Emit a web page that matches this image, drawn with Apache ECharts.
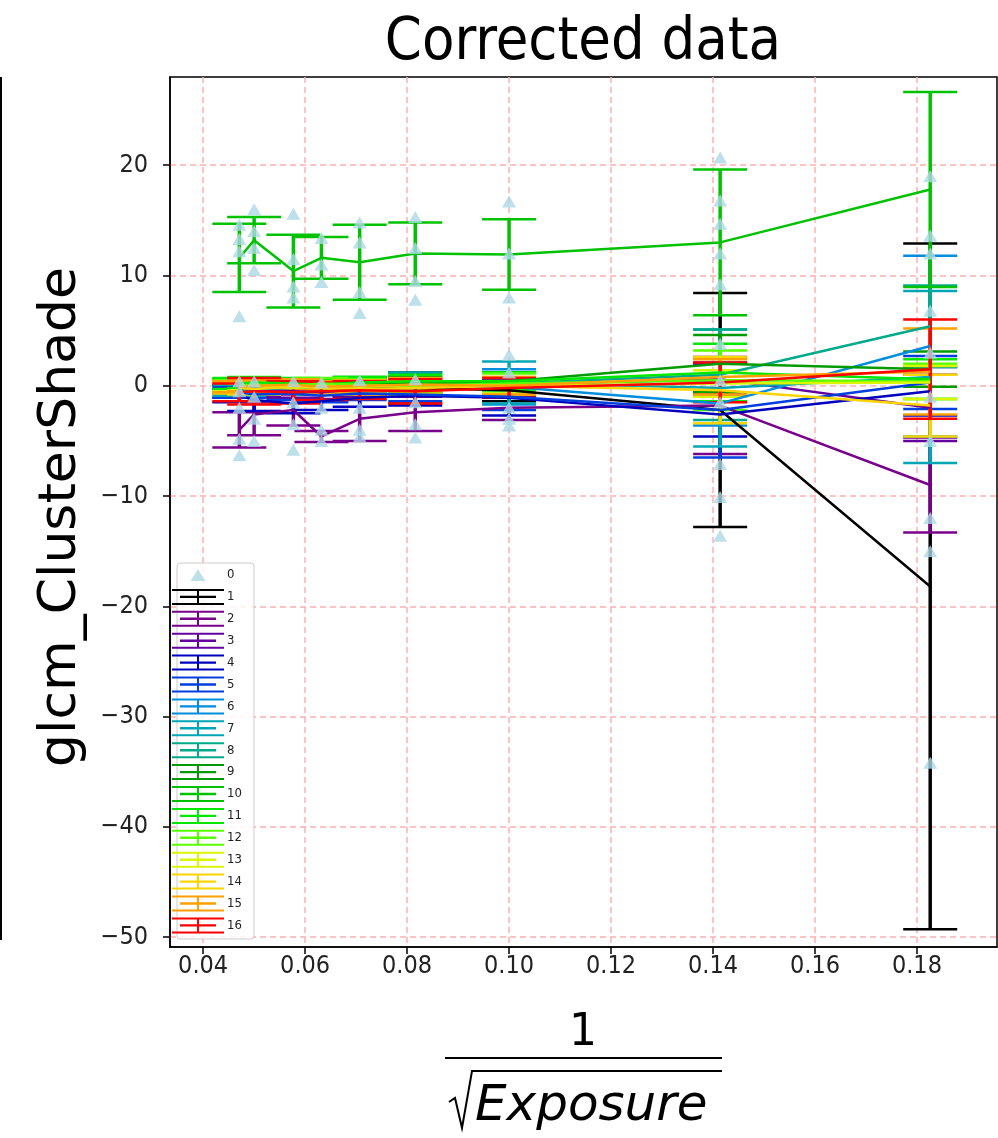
<!DOCTYPE html>
<html>
<head>
<meta charset="utf-8">
<script src="https://cdn.jsdelivr.net/npm/echarts@6/dist/echarts.min.js"></script>
<style>
html,body{margin:0;padding:0;background:#fff;}
#c{width:998px;height:1138px;}
</style>
</head>
<body>
<div id="c"></div>
<script>
// x positions (1/sqrt(Exposure))
const xs = [0.0471, 0.05, 0.0577, 0.0632, 0.0707, 0.0816, 0.1, 0.1414, 0.1826];
const seriesNames = ['1','2','3','4','5','6','7','8','9','10','11','12','13','14','15','16'];
const colors = ['#000000','#79008a','#64009e','#0000be','#003fdd','#008ddd','#00a6b4','#00aa8a',
                '#009b00','#00c200','#00e800','#57ff00','#d9f500','#fad500','#ffa000','#ff0000'];

// means and errors per series
const s1  = [-0.3, -0.2, 0.0, 0.1, -0.1, -0.2, -0.4, -2.2, -18.2];
const e1  = [0.4, 0.5, 0.5, 0.5, 0.8, 1.4, 1.0, 10.6, 31.1];
const s2  = [-4.0, -2.6, -2.2, -4.6, -3.0, -2.4, -2.0, -1.8, -9.0];
const e2  = [1.6, 1.9, 1.4, 0.5, 2.0, 1.7, 1.1, 4.4, 4.3];
const s3  = [-0.5, -0.4, -0.5, -0.6, -0.3, -0.2, 0.1, 0.6, -2.0];
const e3  = [0.6, 0.6, 0.6, 0.6, 0.6, 0.8, 1.1, 1.4, 3.0];
const s4  = [-0.9, -1.3, -1.6, -1.4, -1.1, -0.9, -1.1, -2.6, -0.5];
const e4  = [0.6, 1.0, 0.9, 0.8, 0.8, 0.9, 1.6, 2.0, 2.2];
const s5  = [-0.6, -0.8, -0.7, -0.9, -0.7, -0.8, -1.0, -2.2, 0.3];
const e5  = [0.5, 0.6, 0.6, 0.6, 0.6, 0.6, 1.2, 4.3, 2.4];
const s6  = [-0.2, -0.1, 0.0, -0.2, -0.1, 0.0, -0.1, -1.6, 3.6];
const e6  = [0.5, 0.5, 0.5, 0.5, 0.5, 0.7, 1.6, 2.0, 8.2];
const s7  = [-0.4, -0.3, -0.2, -0.1, 0.0, 0.2, 0.3, -0.2, 0.8];
const e7  = [0.5, 0.5, 0.5, 0.5, 0.6, 1.0, 1.9, 5.3, 7.8];
const s8  = [0.0, 0.1, 0.0, -0.2, -0.1, 0.1, 0.2, 1.0, 5.4];
const e8  = [0.6, 0.6, 0.6, 0.6, 0.6, 0.8, 1.0, 4.1, 3.7];
const s9  = [0.1, 0.2, 0.0, 0.1, 0.3, 0.2, 0.4, 2.0, 1.5];
const e9  = [0.5, 0.5, 0.5, 0.5, 0.5, 0.6, 0.8, 2.6, 1.6];
const s10 = [11.6, 13.2, 10.4, 11.6, 11.2, 12.0, 11.9, 13.0, 17.8];
const e10 = [3.1, 2.1, 3.3, 1.9, 3.4, 2.8, 3.2, 6.6, 8.85];
const s11 = [0.2, 0.3, 0.2, 0.1, 0.3, 0.4, 0.4, 1.2, 0.6];
const e11 = [0.5, 0.5, 0.5, 0.5, 0.5, 0.6, 0.8, 2.6, 1.8];
const s12 = [0.0, 0.1, 0.0, 0.2, 0.1, 0.0, 0.2, 0.5, 0.4];
const e12 = [0.5, 0.5, 0.5, 0.5, 0.5, 0.6, 0.9, 2.7, 1.6];
const s13 = [-0.1, 0.0, -0.2, 0.0, -0.1, 0.1, 0.0, 0.2, 0.3];
const e13 = [0.4, 0.4, 0.4, 0.4, 0.4, 0.5, 0.7, 1.2, 1.5];
const s14 = [-0.2, -0.3, -0.1, -0.2, -0.3, -0.2, 0.0, -0.4, -1.8];
const e14 = [0.5, 0.5, 0.5, 0.5, 0.5, 0.6, 0.8, 3.0, 2.8];
const s15 = [-0.1, 0.0, 0.1, -0.1, 0.0, 0.1, 0.0, 0.8, 1.3];
const e15 = [0.5, 0.5, 0.5, 0.5, 0.5, 0.6, 0.8, 1.6, 3.9];
const s16 = [-0.6, -0.5, -0.6, -0.5, -0.4, -0.5, -0.2, 0.3, 1.5];
const e16 = [0.8, 1.2, 1.0, 0.8, 0.8, 1.1, 0.9, 1.8, 4.5];

// raw points (series "0", light blue triangles)
const rawX = [
  0.0471,0.0471,0.0471,0.0471,0.0471,0.0471,0.0471,0.0471,0.0471,
  0.05,0.05,0.05,0.05,0.05,0.05,0.05,0.05,
  0.0577,0.0577,0.0577,0.0577,0.0577,0.0577,0.0577,0.0577,
  0.0632,0.0632,0.0632,0.0632,0.0632,0.0632,0.0632,
  0.0707,0.0707,0.0707,0.0707,0.0707,0.0707,0.0707,0.0707,
  0.0816,0.0816,0.0816,0.0816,0.0816,0.0816,0.0816,0.0816,
  0.1,0.1,0.1,0.1,0.1,0.1,0.1,0.1,
  0.1414,0.1414,0.1414,0.1414,0.1414,0.1414,0.1414,0.1414,0.1414,0.1414,0.1414,
  0.1826,0.1826,0.1826,0.1826,0.1826,0.1826,0.1826,0.1826,0.1826,0.1826
];
const rawY = [
  14.6,13.3,12.2,6.3,0.4,-0.5,-2.0,-4.8,-6.3,
  16.0,14.0,12.5,10.5,0.4,-1.0,-3.0,-5.0,
  15.6,11.5,9.0,8.0,0.4,-1.5,-3.5,-5.8,
  13.4,11.0,9.4,0.3,-2.0,-4.0,-5.0,
  14.8,13.0,8.5,6.6,0.5,-2.0,-4.0,-4.6,
  15.3,12.5,9.5,7.8,0.6,-1.5,-3.5,-4.7,
  16.7,12.0,8.0,2.8,1.2,-2.0,-3.0,-3.6,
  20.7,16.8,14.7,12.0,9.2,3.8,0.5,-1.5,-7.1,-10.1,-13.6,
  19.0,13.6,12.0,6.8,3.0,-1.0,-5.0,-12.0,-15.0,-34.2
];

const means = [s1,s2,s3,s4,s5,s6,s7,s8,s9,s10,s11,s12,s13,s14,s15,s16];
const errs  = [e1,e2,e3,e4,e5,e6,e7,e8,e9,e10,e11,e12,e13,e14,e15,e16];

const FONTC = '"DejaVu Sans Condensed", "DejaVu Sans"';
const GRIDC = '#ffb0b0';

function errRenderer(color){
  return function(params, api){
    const x = api.value(0), lo = api.value(1), hi = api.value(2);
    const p1 = api.coord([x, hi]);
    const p2 = api.coord([x, lo]);
    const hw = 27;
    return {type:'group', children:[
      {type:'line', shape:{x1:p1[0], y1:p1[1], x2:p2[0], y2:p2[1]}, style:{stroke:color, lineWidth:3.5}},
      {type:'line', shape:{x1:p1[0]-hw, y1:p1[1], x2:p1[0]+hw, y2:p1[1]}, style:{stroke:color, lineWidth:2.5}},
      {type:'line', shape:{x1:p2[0]-hw, y1:p2[1], x2:p2[0]+hw, y2:p2[1]}, style:{stroke:color, lineWidth:2.5}}
    ]};
  };
}

const series = [];
series.push({
  name:'0', type:'scatter', symbol:'triangle', symbolSize:[14,12],
  itemStyle:{color:'#add8e6'},
  data: rawX.map((x,i)=>[x, rawY[i]]), z:2
});
means.forEach((m, k) => {
  const c = colors[k];
  series.push({
    name: seriesNames[k], type:'custom', renderItem: errRenderer(c),
    encode:{x:0, y:[1,2]},
    data: xs.map((x,i)=>[x, m[i]-errs[k][i], m[i]+errs[k][i]]), z:2
  });
  series.push({
    name: seriesNames[k], type:'line', symbol:'none', color:c,
    lineStyle:{color:c, width:2.5},
    data: xs.map((x,i)=>[x, m[i]]), z:2
  });
});

const errIcon = 'path://M0,0H52V2H0Z M0,14H52V16H0Z M8,6.8H44V9.2H8Z M25,0H27V16H25Z';
const triIcon = 'path://M0,0L0.01,0L0,0.01Z M52,16L51.99,16L52,15.99Z M18.5,14L26,2L33.5,14Z';

const legendData = [{name:'0', icon:triIcon, itemStyle:{color:'#add8e6'}}];
seriesNames.forEach((n,k)=>legendData.push({name:n, icon:errIcon, itemStyle:{color:colors[k], borderWidth:0}}));

const chart = echarts.init(document.getElementById('c'), null, {renderer:'canvas'});
chart.setOption({
  animation:false,
  backgroundColor:'#fff',
  grid:{left:170, right:1, top:77, bottom:191, show:true, borderColor:'#000', borderWidth:1.5, backgroundColor:'transparent'},
  xAxis:{
    type:'value', min:0.0335, max:0.1957, splitNumber:8,
    axisLine:{show:true, onZero:false, lineStyle:{color:'#000', width:1.5}},
    axisTick:{show:true, length:7, lineStyle:{color:'#000', width:1.5}},
    axisLabel:{show:true, showMinLabel:false, showMaxLabel:false, color:'#222', fontFamily:FONTC, fontSize:25, margin:7,
      formatter: v => v.toFixed(2)},
    splitLine:{show:true, showMinLine:false, showMaxLine:false, lineStyle:{color:GRIDC, width:1.5, type:[6,4]}}
  },
  yAxis:{
    type:'value', min:-50.9, max:28, splitNumber:8,
    axisLine:{show:true, onZero:false, lineStyle:{color:'#000', width:1.5}},
    axisTick:{show:true, length:7, lineStyle:{color:'#000', width:1.5}},
    axisLabel:{show:true, showMinLabel:false, showMaxLabel:false, color:'#222', fontFamily:FONTC, fontSize:25, margin:22,
      formatter: v => v < 0 ? '\u2212' + Math.abs(v) : String(v)},
    splitLine:{show:true, showMinLine:false, showMaxLine:false, lineStyle:{color:GRIDC, width:1.5, type:[6,4]}}
  },
  legend:{
    show:true, orient:'vertical', left:172, top:567, padding:0,
    itemWidth:52, itemHeight:16, itemGap:5.9,
    textStyle:{fontFamily:FONTC, fontSize:13, color:'#222', padding:[0,0,0,-2]},
    data: legendData, selectedMode:false, z:20
  },
  graphic:[
    {type:'rect', z:15, shape:{x:177, y:563, width:77, height:376, r:3},
      style:{fill:'rgba(255,255,255,0.85)', stroke:'#cccccc', lineWidth:1}},
    {type:'text', x:583, y:44, style:{text:'Corrected data', font:'59px "DejaVu Sans Condensed", "DejaVu Sans"', fill:'#000', align:'center', verticalAlign:'middle'}},
    {type:'text', x:61, y:517, rotation:Math.PI/2, style:{text:'glcm_ClusterShade', font:'52px "DejaVu Sans"', fill:'#000', align:'center', verticalAlign:'middle'}},
    {type:'text', x:583, y:1034, style:{text:'1', font:'44px "DejaVu Sans"', fill:'#000', align:'center', verticalAlign:'middle'}},
    {type:'line', shape:{x1:445, y1:1058, x2:722, y2:1058}, style:{stroke:'#000', lineWidth:2}},
    {type:'polyline', shape:{points:[[449,1102],[455,1098],[462,1128],[472,1071],[722,1071]]}, style:{stroke:'#000', lineWidth:2, fill:null}},
    {type:'text', x:475, y:1107, style:{text:'Exposure', font:'italic 50px "DejaVu Sans"', fill:'#000', align:'left', verticalAlign:'middle'}},
    {type:'line', shape:{x1:1, y1:77, x2:1, y2:940}, style:{stroke:'#000', lineWidth:2}}
  ],
  series: series
});
</script>
</body>
</html>
